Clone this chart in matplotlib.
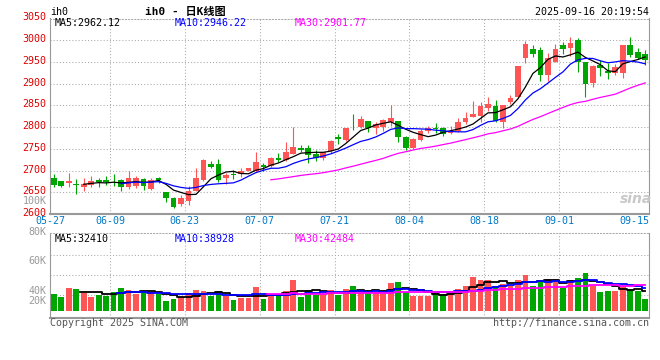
import numpy as np
import pandas as pd
import matplotlib
matplotlib.use("Agg")
import matplotlib.pyplot as plt
import matplotlib.transforms as mtrans

plt.rcParams["font.family"] = ["DejaVu Sans Mono", "Noto Sans CJK SC"]

# === 数据 ===
opens = [2684, 2675, 2672, 2670, 2661, 2667, 2679, 2678, 2677, 2678,
         2663, 2664, 2681, 2658, 2684, 2651, 2637, 2622, 2631, 2654,
         2678, 2714, 2715, 2683, 2693, 2692, 2700, 2700, 2712, 2711,
         2729, 2725, 2738, 2752, 2752, 2738, 2728, 2745, 2777, 2771,
         2805, 2800, 2814, 2797, 2801, 2812, 2814, 2777, 2751, 2771,
         2790, 2799, 2797, 2787, 2790, 2812, 2823, 2825, 2844, 2849,
         2812, 2857, 2869, 2959, 2980, 2977, 2921, 2950, 2989, 2983,
         3001, 2950, 2902, 2942, 2930, 2925, 2925, 2989, 2974, 2968]
highs = [2691, 2677, 2694, 2680, 2682, 2687, 2684, 2688, 2691, 2681,
         2699, 2688, 2684, 2684, 2686, 2651, 2640, 2643, 2664, 2705,
         2726, 2722, 2726, 2694, 2702, 2705, 2706, 2743, 2717, 2731,
         2740, 2766, 2801, 2758, 2758, 2748, 2743, 2771, 2783, 2798,
         2830, 2826, 2814, 2812, 2818, 2851, 2814, 2780, 2774, 2796,
         2803, 2809, 2800, 2803, 2820, 2834, 2860, 2858, 2869, 2863,
         2852, 2875, 2940, 2998, 2989, 2985, 2971, 2992, 2995, 3008,
         3004, 2950, 2944, 2954, 2948, 2945, 2989, 3007, 2983, 2977]
lows = [2661, 2661, 2661, 2645, 2654, 2663, 2663, 2666, 2664, 2654,
        2658, 2660, 2655, 2655, 2672, 2628, 2613, 2618, 2620, 2652,
        2675, 2707, 2673, 2669, 2680, 2685, 2698, 2697, 2700, 2708,
        2720, 2722, 2738, 2743, 2718, 2722, 2725, 2740, 2761, 2769,
        2794, 2797, 2788, 2785, 2792, 2803, 2765, 2747, 2750, 2767,
        2787, 2787, 2780, 2785, 2788, 2808, 2823, 2811, 2837, 2812,
        2797, 2854, 2867, 2947, 2962, 2907, 2905, 2950, 2968, 2964,
        2928, 2870, 2892, 2918, 2910, 2919, 2913, 2962, 2956, 2942]
closes = [2666, 2664, 2676, 2667, 2669, 2676, 2673, 2673, 2675, 2661,
          2682, 2682, 2664, 2679, 2679, 2637, 2616, 2637, 2654, 2682,
          2725, 2708, 2679, 2689, 2690, 2700, 2705, 2720, 2708, 2729,
          2725, 2743, 2755, 2748, 2735, 2729, 2743, 2769, 2772, 2798,
          2804, 2818, 2797, 2808, 2817, 2821, 2778, 2752, 2772, 2791,
          2797, 2796, 2784, 2790, 2811, 2820, 2831, 2848, 2854, 2814,
          2852, 2866, 2940, 2991, 2969, 2919, 2960, 2980, 2979, 2994,
          2950, 2899, 2940, 2936, 2924, 2939, 2989, 2966, 2960, 2954]
volumes = [28600, 23650, 38500, 36850, 30250, 23650, 26950, 25300, 31350, 38500,
           35200, 28600, 33000, 31350, 27500, 16500, 20350, 23650, 30250, 34650,
           33000, 25300, 33000, 25300, 18150, 22000, 22000, 39600, 19800, 28600,
           25300, 33000, 51150, 23650, 34650, 26950, 28050, 34650, 26400, 36300,
           41250, 34650, 29150, 31900, 29150, 46750, 47850, 31900, 25300, 25300,
           25300, 29150, 28050, 31900, 36300, 41250, 56650, 51150, 51150, 41800,
           45100, 41250, 51150, 59950, 41800, 49500, 53350, 52800, 37400, 51150,
           54450, 62700, 41800, 31350, 33550, 33000, 41800, 36300, 33000, 19800]

date_idx = [0, 8, 18, 28, 38, 48, 58, 68, 78]
date_labels = ["05-27", "06-09", "06-23", "07-07", "07-21",
               "08-04", "08-18", "09-01", "09-15"]
price_ticks = [2600, 2650, 2700, 2750, 2800, 2850, 2900, 2950, 3000, 3050]
vol_labels = ["100K", "80K", "60K", "40K", "20K"]
vol_label_y = [200.7, 231.8, 260.7, 290.7, 301]   # 像素位置
price_ma_text = ["MA5:2962.12", "MA10:2946.22", "MA30:2901.77"]
vol_ma_text = ["MA5:32410", "MA10:38928", "MA30:42484"]
ma_windows = [5, 10, 30]
ma_colors = ["black", "#0000FF", "#FF00FF"]

UP, DOWN = "#FF5555", "#00A600"
GRID = "#AAAAAA"
FRAME = "#999999"

W, H = 660, 360
def fx(x): return x / W
def fy(y): return 1 - y / H

df = pd.DataFrame({"o": opens, "h": highs, "l": lows, "c": closes, "v": volumes})
x = np.arange(len(df))
col = np.where(df["c"] >= df["o"], UP, DOWN)

fig = plt.figure(figsize=(6.6, 3.6), dpi=100)
ax = fig.add_axes([fx(50), fy(214), (649 - 50) / W, (214 - 18.5) / H])
axv = fig.add_axes([fx(50), fy(318), (649 - 50) / W, (318 - 233) / H])

dots = (0, (1, 2))

# === K线 ===
ax.vlines(x, df["l"], df["h"], colors=col, lw=0.8, zorder=2)
body = np.maximum((df["c"] - df["o"]).abs(), 1.5)
ax.bar(x, body, bottom=np.minimum(df["o"], df["c"]), width=0.76,
       color=col, linewidth=0, zorder=3)
for w, c in zip(ma_windows, ma_colors):
    ax.plot(x, df["c"].rolling(w).mean(), color=c, lw=0.9, zorder=4)

ax.set_xlim(-0.5, len(df) - 0.5)
ax.set_ylim(2600, 3050)
for y in price_ticks[1:-1]:
    ax.axhline(y, color=GRID, lw=0.75, ls=dots, zorder=1)
for k in date_idx[1:-1]:
    ax.axvline(k - 0.5, color=GRID, lw=0.75, ls=dots, zorder=1)
ax.set_yticks(price_ticks)
ax.set_yticklabels([str(p) for p in price_ticks], color="#E00000", fontsize=7.2)
ax.set_xticks([k - 0.5 for k in date_idx])
ax.set_xticklabels(date_labels, color="#0078C8", fontsize=7.2)
ax.tick_params(axis="y", length=0, pad=2.5)
ax.tick_params(axis="x", length=0, pad=1.8)
# 价格标签比网格线略高
up = mtrans.ScaledTranslation(0, 2 / 100, fig.dpi_scale_trans)
for lab in ax.get_yticklabels():
    lab.set_transform(lab.get_transform() + up)

# === 成交量 ===
axv.bar(x, df["v"], width=0.76, color=col, linewidth=0, zorder=2)
for w, c in zip(ma_windows, ma_colors):
    axv.plot(x, df["v"].rolling(w).mean(), color=c, lw=1.3,
             drawstyle="steps-mid", zorder=3)
per_px = 1650
axv.set_xlim(-0.5, len(df) - 0.5)
axv.set_ylim(-(318 - 311) * per_px, (311 - 233) * per_px)
for ypx in [255, 275, 295]:
    axv.axhline((311 - ypx) * per_px, color=GRID, lw=0.75, ls=dots, zorder=1)
for k in date_idx[1:-1]:
    axv.axvline(k - 0.5, color=GRID, lw=0.75, ls=dots, zorder=1)
axv.set_xticks([])
axv.set_yticks([])

for a in (ax, axv):
    for s in ("left", "right", "bottom"):
        a.spines[s].set_color(FRAME)
    a.spines["bottom"].set_linewidth(1.5)
    a.spines["top"].set_color(GRID)
    a.spines["top"].set_linestyle(dots)
    a.spines["top"].set_linewidth(0.75)

for lab, ypx in zip(vol_labels, vol_label_y):
    fig.text(fx(46.5), fy(ypx), lab, ha="right", va="center",
             color="#999999", fontsize=7.2)

# === 文字 ===
for t, c, xp in zip(price_ma_text, ma_colors, [55, 175, 295]):
    fig.text(fx(xp), fy(23.5), t, color=c, fontsize=7.2, va="center")
for t, c, xp in zip(vol_ma_text, ma_colors, [55, 175, 295]):
    fig.text(fx(xp), fy(238.5), t, color=c, fontsize=7.2, va="center")

fig.text(fx(50), fy(12), "ih0", fontsize=7.2, va="center")
fig.text(fx(185), fy(12), "ih0 - 日K线图", fontsize=8, va="center",
         ha="center", fontweight="bold")
fig.text(fx(649), fy(12), "2025-09-16 20:19:54", fontsize=7.2,
         va="center", ha="right")
fig.text(fx(50), fy(323.5), "Copyright 2025 SINA.COM", fontsize=7.2,
         va="center", color="#555555")
fig.text(fx(649), fy(323.5), "http://finance.sina.com.cn", fontsize=7.2,
         va="center", ha="right", color="#555555")
fig.text(fx(636), fy(199), "sina", fontsize=10, fontweight="bold",
         fontstyle="italic", family="DejaVu Sans", color="#C8C8C8",
         ha="center", va="center")

fig.savefig("out.png", dpi=100)
